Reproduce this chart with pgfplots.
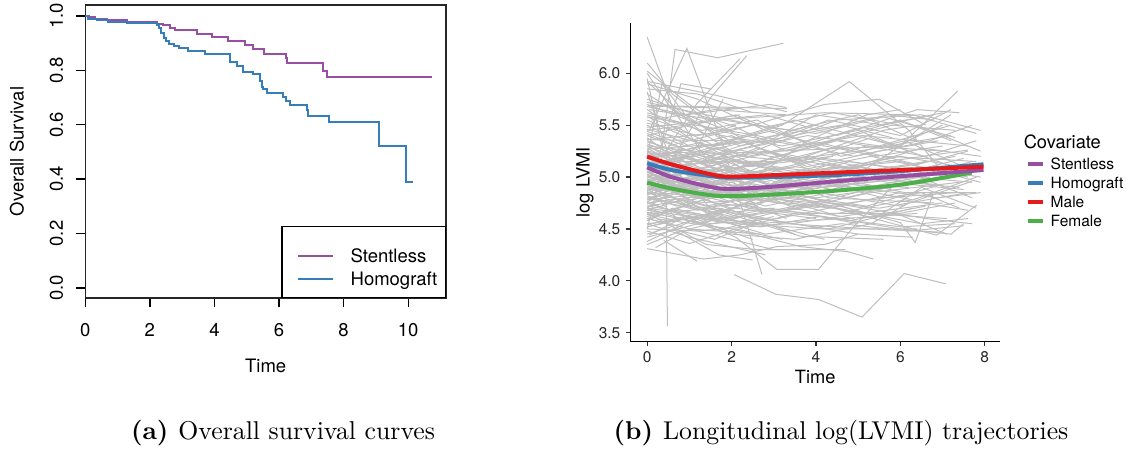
\documentclass[border=0pt]{standalone}
\usepackage{pgfplots}
\pgfplotsset{compat=1.18}
\usepackage{fontspec}
\newfontfamily\heros{TeX Gyre Heros}
\definecolor{spurple}{HTML}{984EA3}
\definecolor{sblue}{HTML}{377EB8}
\definecolor{sred}{HTML}{E41A1C}
\definecolor{sgreen}{HTML}{4DAF4A}
\definecolor{trajgray}{RGB}{190,190,190}
\pgfplotsset{
  traj/.style={draw=trajgray, line width=0.4pt, forget plot},
  lkA/.style={legend image code/.code={\path (0pt,14.1pt); \draw[##1] (2.8pt,2.65pt) -- (16.8pt,2.65pt); \path (23.5pt,0pt);}},
  lkB/.style={legend image code/.code={\path (0pt,-4.2pt); \draw[##1] (2.8pt,2.65pt) -- (16.8pt,2.65pt); \path (23.5pt,0pt);}},
  rk/.style={legend image code/.code={\draw[##1] (0pt,2.2pt) -- (6pt,2.2pt); \path (8.4pt,0pt);}},
}
\begin{document}
\begin{tikzpicture}
\path[use as bounding box] (0,0) rectangle (450.8pt,179.6pt);
% ---------------- left: survival
\begin{axis}[
  at={(34.12pt,60.4pt)}, anchor=south west, scale only axis,
  width=144.28pt, height=117.2pt,
  xmin=0, xmax=11.17, ymin=-0.037, ymax=1.04,
  xtick={0,2,4,6,8,10}, ytick={0,0.2,0.4,0.6,0.8,1.0},
  xtick pos=bottom, ytick pos=left, tick align=outside,
  major tick length=3.7pt, tick style={black, line width=0.5pt},
  axis line style={line width=0.5pt, black!85},
  /pgf/number format/assume math mode=true,
  ticklabel style={font=\heros\fontsize{7.4}{8.9}\selectfont, inner sep=0pt},
  yticklabel style={rotate=90, anchor=south, /pgf/number format/.cd, fixed, fixed zerofill, precision=1},
  xticklabel style={anchor=north},
  yticklabel shift=5pt, xticklabel shift=6.1pt,
  xlabel={Time}, ylabel={Overall Survival},
  label style={font=\heros\fontsize{7.4}{8.9}\selectfont, inner sep=0pt},
  xlabel style={at={(axis description cs:0.5,-0.232)}, anchor=center},
  ylabel style={at={(axis description cs:-0.1894,0.5)}, anchor=center},
  legend style={at={(1,0)}, anchor=south east, draw=black, line width=0.5pt, fill=white,
    inner xsep=3.2pt, inner ysep=0pt, row sep=2.1pt, column sep=0pt,
    font=\heros\fontsize{7.4}{8.9}\selectfont,
    nodes={inner sep=0pt, text height=5.6pt, text depth=1.6pt}, cells={anchor=base west}},
]
\addlegendimage{spurple, line width=0.8pt, lkA}
\addlegendentry{Stentless}
\addlegendimage{sblue, line width=0.8pt, lkB}
\addlegendentry{Homograft}
\addplot[spurple, line width=0.8pt, const plot, forget plot] coordinates {
(0,1.0) (0.1,0.997) (0.30,0.989) (0.66,0.984) (1.28,0.977) (2.21,0.971) (2.42,0.965) (2.62,0.957) (2.78,0.947) (3.45,0.935) (3.91,0.923) (4.43,0.908) (4.94,0.893) (5.18,0.877) (5.54,0.861) (6.21,0.844) (6.25,0.825) (7.37,0.799) (7.47,0.775) (10.75,0.775)};
\addplot[sblue, line width=0.8pt, const plot, forget plot] coordinates {
(0,1.0) (0.09,0.99) (0.35,0.985) (0.71,0.979) (1.28,0.975) (2.21,0.967) (2.28,0.955) (2.35,0.936) (2.43,0.918) (2.51,0.906) (2.60,0.897) (2.75,0.889) (2.90,0.881) (3.19,0.871) (3.71,0.860) (4.48,0.832) (4.69,0.815) (4.87,0.795) (5.20,0.786) (5.41,0.76) (5.46,0.74) (5.51,0.73) (5.62,0.718) (6.13,0.701) (6.20,0.688) (6.34,0.672) (6.85,0.655) (6.90,0.633) (7.55,0.610) (9.09,0.522) (9.92,0.391) (10.15,0.391)};
\end{axis}
% ---------------- right: trajectories
\begin{axis}[
  at={(252.12pt,42.92pt)}, anchor=south west, scale only axis,
  width=147.88pt, height=127.48pt,
  xmin=-0.4, xmax=8.36, ymin=3.413, ymax=6.485,
  clip mode=individual,
  axis x line*=bottom, axis y line*=left,
  axis line style={-, line width=0.5pt, black},
  tick align=outside, major tick length=1.7pt, tick style={line width=0.5pt, black!80},
  xtick={0,2,4,6,8}, ytick={3.5,4,4.5,5,5.5,6},
  /pgf/number format/assume math mode=true,
  ticklabel style={font=\heros\fontsize{6.2}{7.4}\selectfont, inner sep=0pt, text=black!85},
  yticklabel style={anchor=east, /pgf/number format/.cd, fixed, fixed zerofill, precision=1},
  xticklabel style={anchor=north},
  yticklabel shift=2.1pt, xticklabel shift=2.1pt,
  xlabel={Time}, ylabel={log LVMI},
  label style={font=\heros\fontsize{7.3}{8.8}\selectfont, inner sep=0pt},
  xlabel style={at={(axis description cs:0.5,-0.111)}, anchor=center},
  ylabel style={at={(axis description cs:-0.1225,0.5)}, anchor=center},
  legend style={at={(1.0676,0.579)}, anchor=north west, draw=none, fill=none,
    inner sep=0pt, row sep=1.6pt, column sep=0pt,
    font=\heros\fontsize{6.2}{7.4}\selectfont,
    nodes={inner sep=0pt, text height=4.6pt, text depth=1.4pt}, cells={anchor=base west}},
]
\addlegendimage{spurple, line width=1.7pt, rk}
\addlegendentry{Stentless}
\addlegendimage{sblue, line width=1.7pt, rk}
\addlegendentry{Homograft}
\addlegendimage{sred, line width=1.7pt, rk}
\addlegendentry{Male}
\addlegendimage{sgreen, line width=1.7pt, rk}
\addlegendentry{Female}
% individual trajectories
\addplot[traj] coordinates {(0,6.35) (0.62,5.65) (1.6,5.05) (2.6,4.72)};
\addplot[traj] coordinates {(0.35,5.29) (0.66,6.23) (1.67,6.15) (3.23,6.29)};
\addplot[traj] coordinates {(0.05,5.45) (0.94,6.24) (1.8,5.3) (2.72,4.06)};
\addplot[traj] coordinates {(0.05,5.0) (1.18,5.71) (2.2,6.14)};
\addplot[traj] coordinates {(0.1,4.85) (1.49,5.76) (2.36,6.17)};
\addplot[traj] coordinates {(0,4.95) (0.45,4.82) (0.48,3.56)};
\addplot[traj] coordinates {(2.06,4.06) (3.05,3.87) (4.06,3.82) (5.09,3.65) (6.09,4.07) (7.08,3.97)};
\addplot[traj] coordinates {(0.1,4.75) (2.1,4.42) (3.07,4.11) (4.06,4.11) (4.89,4.52) (5.9,4.95)};
\addplot[traj] coordinates {(0.05,5.1) (3.2,5.5) (4.79,5.92) (6.2,5.45) (7.1,5.0)};
\addplot[traj] coordinates {(0.1,5.2) (6.0,5.3) (7.36,5.83)};
\addplot[traj] coordinates {(0.03,5.685) (2.12,5.66)};
\addplot[traj] coordinates {(0.03,5.69) (3.31,5.66)};
\addplot[traj] coordinates {(0.03,5.92) (1.5,5.8) (3.31,5.63)};
\addplot[traj] coordinates {(0,6.02) (1.0,5.7) (2.5,5.3) (4.0,5.1)};
\addplot[traj] coordinates {(0,5.9) (1.2,5.75) (2.8,5.45) (4.2,5.3) (5.5,5.2)};
\addplot[traj] coordinates {(0,4.31) (1.33,4.21) (2.2,4.25) (3.07,4.33) (4.2,4.35) (5.0,4.45)};
\addplot[traj] coordinates {(0.39,4.39) (1.18,4.19)};
\addplot[traj] coordinates {(0.2,4.6) (2.0,4.5) (3.63,4.33) (4.76,4.28) (5.36,4.21)};
\addplot[traj] coordinates {(1.5,4.7) (3.63,4.43) (5.6,4.40)};
\addplot[traj] coordinates {(0.1,5.1) (3.0,4.9) (6.0,4.56) (6.35,4.37) (6.78,4.84)};
\addplot[traj] coordinates {(0.1,4.9) (3.5,4.8) (6.86,4.44) (7.81,4.73)};
\addplot[traj] coordinates {(0,4.42) (1.2,4.55) (2.6,4.8) (4.0,4.75)};
\addplot[traj] coordinates {(0,5.55) (1.4,5.3) (3.0,5.45) (4.6,5.2) (6.1,5.35) (7.5,5.1)};
\addplot[traj] coordinates {(0,5.4) (1.0,5.5) (2.2,5.2) (4.5,5.55) (6.5,5.6) (7.9,5.45)};
\addplot[traj] coordinates {(0,5.3) (1.8,5.0) (3.5,5.1) (5.2,5.3) (7.0,5.25)};
\addplot[traj] coordinates {(0,5.25) (0.9,4.95) (2.7,4.9) (4.8,5.15) (7.2,5.0)};
\addplot[traj] coordinates {(0,5.15) (1.6,5.05) (3.8,5.2) (6.3,5.0) (7.7,4.95)};
\addplot[traj] coordinates {(0,5.05) (1.1,4.8) (2.4,4.9) (4.1,4.85) (5.9,5.05) (7.85,5.1)};
\addplot[traj] coordinates {(0,4.98) (1.2,4.75) (3.2,4.8) (5.5,4.7) (7.6,4.85)};
\addplot[traj] coordinates {(0,4.9) (0.8,4.85) (2.0,4.7) (3.7,4.95) (6.2,4.9)};
\addplot[traj] coordinates {(0,4.85) (1.9,4.6) (3.6,4.7) (5.3,4.85) (7.4,4.95)};
\addplot[traj] coordinates {(0,4.8) (1.3,4.9) (2.9,4.65) (4.4,4.75) (6.6,4.6) (7.7,4.55)};
\addplot[traj] coordinates {(0,4.75) (1.5,4.55) (3.1,4.6) (4.9,4.75)};
\addplot[traj] coordinates {(0,4.7) (0.9,4.65) (2.5,4.55) (4.7,4.6) (6.4,4.65)};
\addplot[traj] coordinates {(0,4.65) (1.7,4.7) (3.4,4.55) (5.1,4.65) (7.0,4.75)};
\addplot[traj] coordinates {(0,4.6) (1.0,4.5) (2.3,4.62) (4.3,4.5) (6.3,4.7)};
\addplot[traj] coordinates {(0,4.55) (1.4,4.62) (2.8,4.45) (4.6,4.55) (6.2,4.48) (7.5,4.53)};
\addplot[traj] coordinates {(0,4.5) (1.2,4.48) (3.3,4.55) (5.3,4.5) (6.9,4.47)};
\addplot[traj] coordinates {(0,4.52) (2.1,4.7) (4.0,4.6)};
\addplot[traj] coordinates {(0,5.6) (1.3,5.45) (2.6,5.55) (3.9,5.3) (5.8,5.5) (7.3,5.45)};
\addplot[traj] coordinates {(0,5.65) (1.1,5.35) (2.4,5.1) (4.4,5.2)};
\addplot[traj] coordinates {(0,5.7) (1.6,5.45) (3.6,5.3) (5.1,5.4) (7.6,5.3)};
\addplot[traj] coordinates {(0,5.75) (2.0,5.5) (3.3,5.25) (4.8,5.45) (6.8,5.6)};
\addplot[traj] coordinates {(0,5.8) (0.8,5.6) (2.2,5.3) (3.9,5.5)};
\addplot[traj] coordinates {(0,5.5) (1.5,5.2) (3.0,5.35) (4.3,5.55) (6.0,5.4) (7.2,5.65)};
\addplot[traj] coordinates {(0,5.35) (1.2,5.15) (2.9,5.25) (4.2,5.0) (5.7,5.2) (7.8,5.15)};
\addplot[traj] coordinates {(0,5.2) (2.2,5.35) (3.8,5.1) (5.5,5.25) (6.9,5.35)};
\addplot[traj] coordinates {(0,5.12) (1.0,5.2) (2.3,4.95) (3.7,5.05) (6.0,5.15) (7.9,4.95)};
\addplot[traj] coordinates {(0,5.08) (1.4,4.9) (2.7,5.1) (5.3,4.95) (7.5,5.05)};
\addplot[traj] coordinates {(0,5.02) (0.7,5.15) (1.9,4.85) (3.6,4.9) (5.0,5.1) (6.4,4.95)};
\addplot[traj] coordinates {(0,4.95) (1.5,5.1) (3.1,4.95) (4.7,4.8) (6.7,5.0)};
\addplot[traj] coordinates {(0,4.92) (1.1,4.7) (2.6,4.75) (4.1,4.95) (5.6,4.8) (7.3,4.85)};
\addplot[traj] coordinates {(0,4.88) (2.0,4.95) (3.5,4.7) (5.4,4.9)};
\addplot[traj] coordinates {(0,4.83) (0.9,4.95) (2.5,4.8) (4.4,5.0) (6.1,4.85) (7.8,4.85)};
\addplot[traj] coordinates {(0,4.78) (1.6,4.85) (2.9,5.0) (4.3,4.8) (6.8,4.75)};
\addplot[traj] coordinates {(0,4.72) (1.3,4.8) (3.0,4.9) (5.2,4.65) (7.1,4.6)};
\addplot[traj] coordinates {(0,4.68) (1.8,4.9) (3.3,4.85) (4.9,5.0) (7.4,4.9)};
\addplot[traj] coordinates {(0,4.62) (1.1,4.75) (2.4,4.9) (4.0,4.8) (5.8,4.9)};
\addplot[traj] coordinates {(0,5.28) (1.0,5.05) (1.9,4.85) (3.1,4.75)};
\addplot[traj] coordinates {(0,5.18) (1.7,4.9) (2.8,4.85)};
\addplot[traj] coordinates {(0,5.32) (0.8,5.2) (2.1,5.0) (2.9,4.95)};
\addplot[traj] coordinates {(0,5.1) (1.3,5.0) (2.3,5.15)};
\addplot[traj] coordinates {(0,4.93) (1.0,5.05) (2.1,4.9) (2.6,4.82)};
\addplot[traj] coordinates {(0,5.22) (1.5,5.25) (2.5,5.1) (3.0,5.2)};
\addplot[traj] coordinates {(0,4.87) (1.2,5.0) (2.0,5.15) (2.7,4.95)};
\addplot[traj] coordinates {(0,5.38) (0.9,5.1) (1.8,5.2) (3.2,5.05)};
\addplot[traj] coordinates {(0,4.58) (1.0,4.75) (2.2,4.85)};
\addplot[traj] coordinates {(0,4.45) (1.2,4.6) (2.4,4.75) (3.3,4.6)};
\addplot[traj] coordinates {(0,4.38) (0.9,4.55) (1.8,4.7)};
\addplot[traj] coordinates {(0.2,4.32) (1.0,4.5) (2.7,4.45)};
\addplot[traj] coordinates {(0,5.0) (2.2,5.3) (4.1,5.45) (5.7,5.6) (6.8,5.55)};
\addplot[traj] coordinates {(0,4.83) (1.9,5.05) (3.9,5.3) (6.0,5.55) (7.2,5.35)};
\addplot[traj] coordinates {(0,5.45) (1.8,5.55) (3.4,5.45) (5.0,5.6) (6.4,5.35)};
\addplot[traj] coordinates {(0,4.97) (2.5,5.2) (4.5,5.35) (6.6,5.2) (7.8,5.35)};
\addplot[traj] coordinates {(0,5.27) (2.9,5.35) (4.0,5.6) (5.6,5.5) (7.0,5.62)};
\addplot[traj] coordinates {(0.1,5.15) (3.0,5.15) (5.0,5.25) (7.2,5.4)};
\addplot[traj] coordinates {(0,4.9) (2.3,4.55) (4.1,4.5) (6.4,4.5)};
\addplot[traj] coordinates {(0,4.7) (2.0,4.45) (3.5,4.4) (5.3,4.55) (6.2,4.75)};
\addplot[traj] coordinates {(0,4.6) (1.5,4.45) (3.0,4.3) (4.7,4.3)};
\addplot[traj] coordinates {(0,4.55) (1.0,4.42) (2.8,4.25)};
\addplot[traj] coordinates {(0.6,4.5) (1.7,4.25) (2.5,4.2)};
\addplot[traj] coordinates {(0,4.65) (1.4,4.35) (2.6,4.3) (3.8,4.3)};
\addplot[traj] coordinates {(0,5.05) (2.4,4.7) (4.5,4.6) (6.0,4.5) (7.2,4.45) (7.5,4.55)};
\addplot[traj] coordinates {(0,5.02) (1.6,4.75) (3.8,4.65) (5.9,4.65) (7.1,4.45)};
\addplot[traj] coordinates {(0.05,4.8) (2.7,4.6) (5.0,4.45) (6.3,4.42)};
\addplot[traj] coordinates {(0,4.85) (2.1,4.8) (4.5,4.7) (6.5,4.55) (7.6,4.6)};
\addplot[traj] coordinates {(0,5.1) (2.6,5.05) (4.9,4.9) (6.9,4.8) (7.9,4.85)};
\addplot[traj] coordinates {(0,5.4) (2.3,5.05) (4.2,4.9) (6.3,5.0) (7.7,5.15)};
\addplot[traj] coordinates {(0,5.25) (3.2,5.0) (5.4,5.05) (7.3,5.2)};
\addplot[traj] coordinates {(0,5.58) (2.6,5.4) (4.9,5.2) (6.7,5.35) (7.7,5.5)};
\addplot[traj] coordinates {(0,5.48) (2.8,5.6) (4.5,5.4) (6.4,5.65) (7.4,5.62)};
\addplot[traj] coordinates {(0,5.36) (1.9,5.35) (3.5,5.55) (5.9,5.3) (7.0,5.5)};
\addplot[traj] coordinates {(0,5.68) (0.9,5.6) (2.9,5.7) (3.3,5.67)};
\addplot[traj] coordinates {(0,5.12) (3.0,5.4) (4.6,5.5) (5.8,5.38)};
\addplot[traj] coordinates {(0.5,5.3) (2.5,5.5) (4.2,5.7) (5.5,5.75) (6.6,5.5)};
\addplot[traj] coordinates {(0.1,5.55) (1.6,5.65) (3.3,5.6)};
\addplot[traj] coordinates {(0,5.3) (3.4,5.15) (5.6,5.45) (6.4,5.5) (7.9,5.25)};
\addplot[traj] coordinates {(0,4.98) (2.8,5.0) (5.3,5.2) (7.6,5.0)};
\addplot[traj] coordinates {(0,4.75) (3.6,4.95) (5.8,5.1) (7.7,4.8)};
\addplot[traj] coordinates {(0,4.95) (3.9,4.7) (6.5,4.85) (7.4,4.7)};
\addplot[traj] coordinates {(0.15,5.0) (1.6,4.6) (2.8,4.55) (4.2,4.4)};
\addplot[traj] coordinates {(0,5.05) (1.3,4.8) (2.5,4.6) (3.5,4.45)};
\addplot[traj] coordinates {(0,4.9) (0.7,4.6) (1.4,4.55) (2.5,4.4)};
\addplot[traj] coordinates {(0,5.2) (5.4,4.6) (6.5,4.9) (7.8,4.7)};
\addplot[traj] coordinates {(0,4.68) (2.7,4.52) (4.1,4.62) (6.0,4.52) (7.3,4.55)};
\addplot[traj] coordinates {(4.7,4.95) (6.0,5.3) (7.2,5.6)};
\addplot[traj] coordinates {(2.2,4.9) (3.8,5.35) (5.2,5.6) (6.0,5.65)};
\addplot[traj] coordinates {(0.05,5.65) (1.6,5.55) (4.2,5.62) (6.3,5.6) (7.8,5.42)};
\addplot[traj] coordinates {(0,5.85) (1.2,5.8) (2.5,5.62)};
\addplot[traj] coordinates {(0,6.0) (0.5,5.7) (1.4,5.4) (2.1,5.5)};
\addplot[traj] coordinates {(0.2,5.1) (0.8,5.9) (1.5,5.85)};
\addplot[traj] coordinates {(0,5.95) (0.4,5.2) (1.0,4.9)};
\addplot[traj] coordinates {(0,5.82) (0.6,5.1) (1.5,4.7)};
\addplot[traj] coordinates {(0,5.2) (0.35,5.9) (0.9,5.6) (2.0,5.3)};
\addplot[traj] coordinates {(0,4.5) (0.3,5.0) (1.2,5.3) (1.8,5.75)};
\addplot[traj] coordinates {(0,5.14) (0.8,4.98) (1.7,5.08) (2.9,4.92) (4.3,5.12) (5.9,5.02) (7.5,5.18)};
\addplot[traj] coordinates {(0,4.96) (0.6,5.08) (1.5,4.92) (2.6,5.05) (3.9,4.88) (5.6,5.02)};
\addplot[traj] coordinates {(0,5.06) (0.9,4.88) (2.1,5.02) (3.4,4.86) (4.8,4.98)};
\addplot[traj] coordinates {(0,4.82) (0.7,4.72) (1.6,4.86) (2.8,4.72) (4.2,4.84) (6.0,4.72) (7.7,4.96)};
\addplot[traj] coordinates {(0,5.24) (1.1,5.12) (2.2,5.26) (3.6,5.14) (5.3,5.38) (7.1,5.12)};
\addplot[traj] coordinates {(0,4.74) (0.8,4.86) (1.9,4.76) (3.2,4.98) (4.6,4.86)};
\addplot[traj] coordinates {(0,5.34) (1.0,5.22) (2.0,5.08) (3.3,5.22) (4.9,5.08) (6.5,5.28) (7.9,5.2)};
\addplot[traj] coordinates {(0,4.64) (0.7,4.58) (1.8,4.68) (3.5,4.82) (5.2,4.72) (6.9,4.92)};
\addplot[traj] coordinates {(0,5.44) (0.9,5.3) (2.0,5.4) (3.1,5.2) (4.4,5.34)};
\addplot[traj] coordinates {(0,4.86) (1.4,4.72) (2.9,4.84) (4.5,4.92) (6.3,4.78) (7.8,5.0)};
\addplot[traj] coordinates {(0.1,5.02) (1.0,4.92) (2.2,4.78) (3.3,4.9)};
\addplot[traj] coordinates {(0,4.76) (0.6,4.9) (1.3,4.8) (2.3,4.95)};
\addplot[traj] coordinates {(0,5.16) (0.7,5.24) (1.5,5.1) (2.6,5.28) (3.7,5.16)};
\addplot[traj] coordinates {(0,4.54) (1.1,4.64) (2.3,4.52) (3.6,4.66) (5.0,4.55)};
\addplot[traj] coordinates {(0,4.48) (1.0,4.36) (2.1,4.5) (3.2,4.4)};
\addplot[traj] coordinates {(0,5.52) (1.2,5.4) (2.5,5.5) (4.0,5.42) (5.6,5.58) (7.3,5.38)};
\addplot[traj] coordinates {(0,5.62) (1.0,5.5) (2.1,5.6) (3.0,5.44)};
\addplot[traj] coordinates {(0,4.92) (1.6,5.05) (3.4,5.18) (5.1,5.05) (6.6,5.15)};
\addplot[traj] coordinates {(0,5.04) (1.8,5.18) (3.7,5.0) (5.5,5.14) (7.6,5.26)};
\addplot[traj] coordinates {(0,4.8) (1.2,4.68) (2.7,4.84) (4.4,4.64) (6.1,4.78) (7.6,4.68)};
\addplot[traj] coordinates {(0,5.26) (0.6,5.06) (1.4,4.98) (2.4,4.82)};
\addplot[traj] coordinates {(0,5.08) (0.5,4.9) (1.1,4.76) (2.0,4.66) (3.0,4.7)};
\addplot[traj] coordinates {(0,4.7) (0.5,4.84) (1.3,4.92) (2.2,4.8) (3.6,5.02)};
\addplot[traj] coordinates {(0,4.6) (0.9,4.72) (2.0,4.62) (3.0,4.8) (4.3,4.7) (6.0,4.85)};
\addplot[traj] coordinates {(0,5.18) (1.3,5.3) (2.4,5.2) (4.0,5.34) (5.4,5.2) (7.0,5.3)};
\addplot[traj] coordinates {(0.3,4.95) (1.5,4.85) (3.0,5.0) (4.6,4.9) (6.0,5.1) (7.4,5.05)};
\addplot[traj] coordinates {(0,5.36) (1.5,5.42) (3.2,5.3) (5.0,5.45) (6.2,5.25)};
\addplot[traj] coordinates {(0,4.9) (1.0,4.98) (2.8,4.88) (4.3,5.06) (5.7,4.95) (7.5,4.88)};
\addplot[traj] coordinates {(0,5.0) (0.8,4.94) (1.8,5.1) (2.5,4.98)};
\addplot[traj] coordinates {(0,4.84) (0.5,4.95) (1.2,4.85) (2.0,4.98) (2.8,4.86)};
\addplot[traj] coordinates {(0,5.12) (1.4,5.22) (2.6,5.04) (4.2,5.18) (6.4,5.06) (7.9,5.12)};
\addplot[traj] coordinates {(0,4.66) (1.3,4.56) (2.9,4.7) (4.8,4.58) (6.6,4.72)};
\addplot[traj] coordinates {(0,5.46) (2.0,5.25) (3.8,5.4) (5.5,5.3) (7.2,5.5)};
\addplot[traj] coordinates {(0,5.72) (1.4,5.6) (2.8,5.48) (4.4,5.62) (6.0,5.5)};
\addplot[traj] coordinates {(0,5.58) (0.8,5.46) (1.6,5.3) (2.4,5.35)};
\addplot[traj] coordinates {(0,5.0) (1.7,4.88) (3.6,5.05) (5.2,4.9) (7.1,5.05) (7.9,5.0)};
\addplot[traj] coordinates {(0,4.94) (0.9,5.12) (2.0,5.0) (3.1,5.1)};
\addplot[traj] coordinates {(0,4.78) (1.0,4.95) (1.9,5.05) (3.0,4.92) (4.6,5.05)};
\addplot[traj] coordinates {(0,5.3) (0.7,5.15) (1.6,5.28) (2.7,5.1)};
\addplot[traj] coordinates {(0,4.72) (1.9,4.6) (3.8,4.74) (5.6,4.62) (7.3,4.75)};
\addplot[traj] coordinates {(0,5.2) (0.9,5.05) (2.0,4.96) (3.5,5.1) (5.2,5.0) (7.0,4.92)};
\addplot[traj] coordinates {(0,4.58) (0.6,4.7) (1.5,4.62) (2.4,4.76)};
\addplot[traj] coordinates {(0,5.1) (2.0,5.15) (4.0,5.05) (6.0,5.2) (7.7,5.08)};
\addplot[traj] coordinates {(0,4.88) (2.4,5.0) (4.6,5.1) (6.8,4.98) (7.9,5.06)};
\addplot[traj] coordinates {(0,5.42) (1.3,5.2) (2.8,5.12) (4.6,5.3) (6.4,5.12) (7.6,5.25)};
\addplot[traj] coordinates {(0,4.52) (0.8,4.6) (1.8,4.5) (3.0,4.62)};
\addplot[traj] coordinates {(0,6.1) (0.6,5.8) (1.4,5.55) (2.2,5.6)};
\addplot[traj] coordinates {(0,5.92) (0.8,5.62) (1.9,5.45)};
\addplot[traj] coordinates {(0.05,4.44) (0.9,4.62) (2.0,4.55) (3.4,4.7) (4.9,4.6)};
\addplot[traj] coordinates {(0,4.35) (0.8,4.48) (1.6,4.4) (2.5,4.55)};
% smooth group curves
\addplot[sgreen, line width=1.6pt, smooth, forget plot] coordinates {(0,4.946) (0.545,4.892) (1.33,4.835) (1.89,4.815) (2.91,4.83) (4.5,4.87) (6.07,4.93) (7.69,5.043)};
\addplot[spurple, line width=1.6pt, smooth, forget plot] coordinates {(0,5.094) (0.545,5.004) (1.33,4.92) (1.89,4.885) (2.91,4.905) (4.5,4.96) (6.07,5.01) (7.97,5.068)};
\addplot[sblue, line width=1.6pt, smooth, forget plot] coordinates {(0,5.133) (0.545,5.07) (1.33,5.02) (1.89,4.995) (2.91,5.0) (4.5,5.02) (6.07,5.06) (7.97,5.123)};
\addplot[sred, line width=1.6pt, smooth, forget plot] coordinates {(0,5.197) (0.545,5.126) (1.33,5.043) (1.89,5.004) (2.91,5.017) (4.5,5.043) (6.07,5.068) (7.97,5.10)};
\node[anchor=base west, font=\heros\fontsize{7.3}{8.8}\selectfont, inner sep=0pt] at (axis description cs:1.063,0.606) {Covariate};
\end{axis}
% captions
\node[anchor=base, inner sep=0pt, font=\fontsize{10.3}{12.4}\selectfont] at (113.2pt,3.9pt) {\textbf{(a)}\hspace{4pt}Overall survival curves};
\node[anchor=base, inner sep=0pt, font=\fontsize{10.3}{12.4}\selectfont] at (336.4pt,3.9pt) {\textbf{(b)}\hspace{4pt}Longitudinal log(LVMI) trajectories};
\end{tikzpicture}
\end{document}
